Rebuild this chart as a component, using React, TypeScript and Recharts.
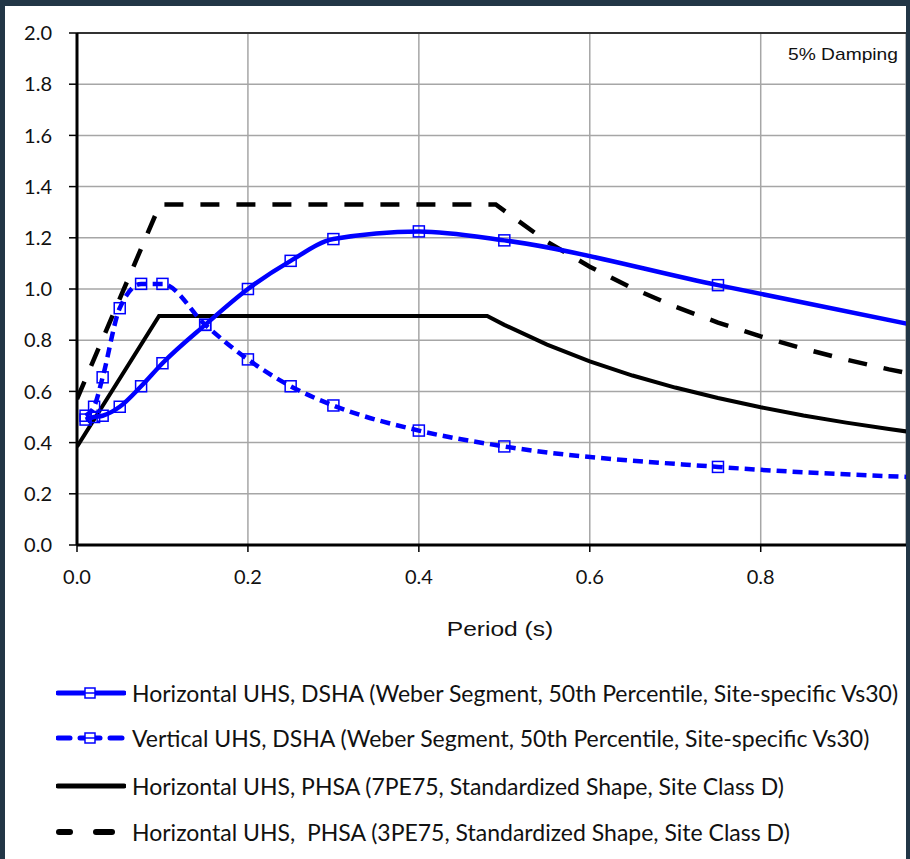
import React from 'react';
import { LineChart, Line, XAxis, YAxis, CartesianGrid, ReferenceLine } from 'recharts';

// Horizontal / vertical DSHA spectra (periods in s, Sa in g)
const dshaPeriods = [0.01, 0.02, 0.03, 0.05, 0.075, 0.1, 0.15, 0.2, 0.25, 0.3, 0.4, 0.5, 0.75, 1.0];
const horizDsha = [0.49, 0.5, 0.505, 0.54, 0.62, 0.71, 0.86, 1.0, 1.11, 1.195, 1.225, 1.19, 1.015, 0.845];
const vertDsha = [0.505, 0.54, 0.655, 0.925, 1.02, 1.02, 0.86, 0.725, 0.62, 0.545, 0.447, 0.385, 0.305, 0.262];

// PHSA standardized shapes
const psha7Periods = [0, 0.096, 0.48, 0.5, 0.55, 0.6, 0.65, 0.7, 0.75, 0.8, 0.85, 0.9, 0.95, 1.0];
const psha7Values = [0.384, 0.895, 0.895, 0.86, 0.783, 0.717, 0.662, 0.615, 0.574, 0.538, 0.506, 0.478, 0.453, 0.43];
const psha3Periods = [0, 0.097, 0.49, 0.55, 0.6, 0.65, 0.7, 0.75, 0.8, 0.85, 0.9, 0.95, 1.0];
const psha3Values = [0.57, 1.33, 1.33, 1.185, 1.087, 1.003, 0.931, 0.869, 0.815, 0.767, 0.724, 0.686, 0.652];

const xTicks = [0, 0.2, 0.4, 0.6, 0.8];
const yTicks = [0, 0.2, 0.4, 0.6, 0.8, 1.0, 1.2, 1.4, 1.6, 1.8, 2.0];

const legendLabels = [
  'Horizontal UHS, DSHA (Weber Segment, 50th Percentile, Site-specific Vs30)',
  'Vertical UHS, DSHA (Weber Segment, 50th Percentile, Site-specific Vs30)',
  'Horizontal UHS, PHSA (7PE75, Standardized Shape, Site Class D)',
  'Horizontal UHS,  PHSA (3PE75, Standardized Shape, Site Class D)',
];

const toRows = (xs: number[], ys: number[]) => xs.map((x, i) => ({ x, y: ys[i] }));

const BLUE = '#0000ff';
const FONT = 'Lato, "Open Sans", sans-serif';
const ARIAL = '"Liberation Sans", Arial, sans-serif';

const Square = (props: any) => {
  const { cx, cy, index } = props;
  if (cx == null || cy == null) return <g key={index} />;
  return (
    <rect key={index} x={cx - 5.5} y={cy - 5.5} width={11} height={11} fill="none" stroke={BLUE} strokeWidth={1.5} />
  );
};

const LegendIcon = ({ kind }: { kind: number }) => {
  if (kind === 0) {
    return (
      <svg width={70} height={14}>
        <line x1={2} y1={7} x2={68} y2={7} stroke={BLUE} strokeWidth={5} strokeLinecap="round" />
        <rect x={29} y={2} width={10} height={10} fill="white" stroke={BLUE} strokeWidth={1.5} />
        <line x1={29} y1={7} x2={39} y2={7} stroke={BLUE} strokeWidth={1.5} />
      </svg>
    );
  }
  if (kind === 1) {
    return (
      <svg width={70} height={14}>
        <line x1={2} y1={7} x2={14} y2={7} stroke={BLUE} strokeWidth={5} strokeLinecap="round" />
        <line x1={24} y1={7} x2={44} y2={7} stroke={BLUE} strokeWidth={5} strokeLinecap="round" />
        <line x1={54} y1={7} x2={66} y2={7} stroke={BLUE} strokeWidth={5} strokeLinecap="round" />
        <rect x={29} y={2} width={10} height={10} fill="white" stroke={BLUE} strokeWidth={1.5} />
        <line x1={29} y1={7} x2={39} y2={7} stroke={BLUE} strokeWidth={1.5} />
      </svg>
    );
  }
  if (kind === 2) {
    return (
      <svg width={70} height={14}>
        <line x1={2} y1={7} x2={68} y2={7} stroke="#000" strokeWidth={5} strokeLinecap="round" />
      </svg>
    );
  }
  return (
    <svg width={70} height={14}>
      <line x1={3} y1={7} x2={14} y2={7} stroke="#000" strokeWidth={6} strokeLinecap="round" />
      <line x1={40} y1={7} x2={56} y2={7} stroke="#000" strokeWidth={6} strokeLinecap="round" />
    </svg>
  );
};

export default function App() {
  const rowTops = [678, 723, 771, 817];
  return (
    <div style={{ position: 'absolute', left: 0, top: 0, width: 910, height: 859, background: '#223646' }}>
      <div
        style={{
          position: 'absolute', left: 5, top: 6, width: 901, height: 853,
          background: '#fff', overflow: 'hidden',
        }}
      >
        <div style={{ position: 'absolute', left: -5, top: -6 }}>
          <LineChart width={906} height={600} margin={{ top: 33, right: 0, left: 0, bottom: 25 }}>
            <CartesianGrid stroke="#a6a6a6" strokeWidth={1.5} />
            <XAxis
              type="number"
              dataKey="x"
              domain={[0, 0.97]}
              ticks={xTicks}
              allowDataOverflow
              height={30}
              tickFormatter={(v: number) => v.toFixed(1)}
              axisLine={{ stroke: '#000', strokeWidth: 3 }}
              tickLine={{ stroke: '#000', strokeWidth: 1.5 }}
              tickSize={7}
              tickMargin={18}
              tick={{ fontSize: 20, fontFamily: FONT, fill: '#111' }}
            />
            <YAxis
              type="number"
              dataKey="y"
              domain={[0, 2]}
              ticks={yTicks}
              width={77}
              tickFormatter={(v: number) => v.toFixed(1)}
              axisLine={{ stroke: '#000', strokeWidth: 3 }}
              tickLine={{ stroke: '#000', strokeWidth: 1.5 }}
              tickSize={8}
              tickMargin={17}
              tick={{ fontSize: 20, fontFamily: FONT, fill: '#111' }}
            />
            <ReferenceLine y={2} stroke="#333" strokeWidth={2} />
            <Line
              data={toRows(psha3Periods, psha3Values)}
              dataKey="y"
              type="linear"
              stroke="#000"
              strokeWidth={4.5}
              strokeDasharray="19 17"
              dot={false}
              isAnimationActive={false}
            />
            <Line
              data={toRows(psha7Periods, psha7Values)}
              dataKey="y"
              type="linear"
              stroke="#000"
              strokeWidth={4}
              dot={false}
              isAnimationActive={false}
            />
            <Line
              data={toRows(dshaPeriods, vertDsha)}
              dataKey="y"
              type="monotone"
              stroke={BLUE}
              strokeWidth={4.5}
              strokeDasharray="10 6"
              dot={Square}
              isAnimationActive={false}
            />
            <Line
              data={toRows(dshaPeriods, horizDsha)}
              dataKey="y"
              type="monotone"
              stroke={BLUE}
              strokeWidth={4.5}
              dot={Square}
              isAnimationActive={false}
            />
          </LineChart>

          <div
            style={{
              position: 'absolute', left: 788, top: 45, fontSize: 17, fontFamily: ARIAL, color: '#111',
              whiteSpace: 'nowrap', transform: 'scaleX(1.13)', transformOrigin: 'left center',
            }}
          >
            5% Damping
          </div>

          <div
            style={{
              position: 'absolute', left: 400, width: 200, top: 617, textAlign: 'center', fontSize: 21,
              fontFamily: ARIAL, color: '#111', transform: 'scaleX(1.17)',
            }}
          >
            Period (s)
          </div>

          {legendLabels.map((label, i) => (
            <div
              key={label}
              style={{
                position: 'absolute', left: 56, top: rowTops[i], display: 'flex', alignItems: 'center',
                whiteSpace: 'pre', fontFamily: FONT, fontSize: 23, color: '#111', lineHeight: '30px',
              }}
            >
              <LegendIcon kind={i} />
              <span style={{ marginLeft: 6 }}>{label}</span>
            </div>
          ))}
        </div>
      </div>
    </div>
  );
}
